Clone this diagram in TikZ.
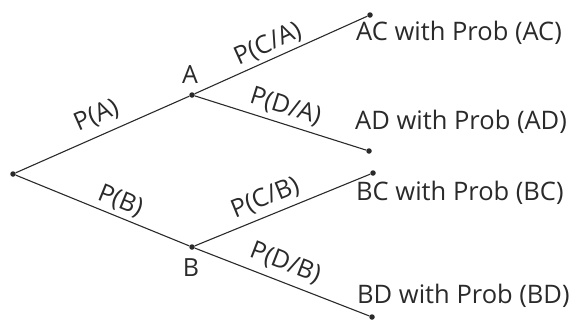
\documentclass[tikz,border=0pt]{standalone}
\usepackage{fontspec}
\setmainfont{Open Sans}
\definecolor{ink}{HTML}{2A2A2A}
\begin{document}
\begin{tikzpicture}[x=1pt,y=-1pt,
  every node/.style={font=\fontsize{25}{28}\selectfont, text=ink, inner sep=0pt},
  dot/.style={circle, fill=ink, minimum size=5.5pt, inner sep=0pt},
  branch/.style={draw=ink, line width=1.1pt},
  lab/.style={sloped, anchor=center},
  outtext/.style={anchor=west, font=\fontsize{25.5}{28}\selectfont}]
\useasboundingbox (0,0) rectangle (575,322);
\node[dot] (r) at (13,174) {};
\node[dot] (a) at (192,95) {};
\node[dot] (b) at (192,247) {};
\node[dot] (ac) at (370,15) {};
\node[dot] (ad) at (369,151) {};
\node[dot] (bc) at (373,173) {};
\node[dot] (bd) at (372,317) {};
\node (la) at (190,75) {A};
\node (lb) at (191,268) {B};
\draw[branch] (r) -- node[lab, pos=0.51, yshift=19pt] {P(A)} (a);
\draw[branch] (r) -- node[lab, pos=0.57, yshift=15pt] {P(B)} (b);
\draw[branch] (a) -- node[lab, pos=0.46, yshift=15pt] {P(C/A)} (ac);
\draw[branch] (a) -- node[lab, pos=0.50, yshift=16.5pt] {P(D/A)} (ad);
\draw[branch] (b) -- node[lab, pos=0.44, yshift=17.5pt] {P(C/B)} (bc);
\draw[branch] (b) -- node[lab, pos=0.48, yshift=18.5pt] {P(D/B)} (bd);
\node[outtext] (tac) at (356,33) {AC with Prob (AC)};
\node[outtext] (tad) at (355,122) {AD with Prob (AD)};
\node[outtext] (tbc) at (356,193) {BC with Prob (BC)};
\node[outtext] (tbd) at (357,296) {BD with Prob (BD)};
\end{tikzpicture}
\end{document}
